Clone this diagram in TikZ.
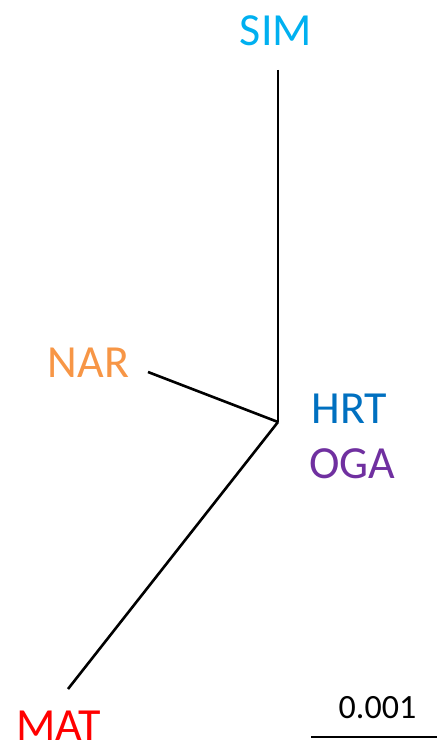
\documentclass[tikz,border=0pt]{standalone}
\usepackage{fontspec}
\setmainfont{Carlito}
\definecolor{simc}{HTML}{00B0F0}
\definecolor{narc}{HTML}{F79646}
\definecolor{hrtc}{HTML}{0070C0}
\definecolor{ogac}{HTML}{7030A0}
\definecolor{matc}{HTML}{FF0000}
\begin{document}
\begin{tikzpicture}[x=1pt,y=-1pt,
  lab/.style={inner sep=0pt,font=\fontsize{46}{46}\selectfont},
  branch/.style={line width=2.6pt,black},
  sclab/.style={inner sep=0pt,font=\fontsize{34}{34}\selectfont}]
\useasboundingbox (0,0) rectangle (437,749);
\coordinate (J) at (278,422);
\coordinate (simend) at (278,70);
\coordinate (narend) at (148,372);
\coordinate (matend) at (68,689);
\coordinate (sb1) at (311,737);
\coordinate (sb2) at (437,737);
\node[lab,text=simc] (sim) at (276,31) {SIM};
\node[lab,text=narc] (nar) at (88.5,362.5) {NAR};
\node[lab,text=hrtc] (hrt) at (349.5,409) {HRT};
\node[lab,text=ogac] (oga) at (352.5,464) {OGA};
\node[lab,text=matc] (mat) at (58.5,726) {MAT};
\node[sclab] (scale) at (377.5,707.5) {0.001};
\draw[branch] (simend) -- (J);
\draw[branch] (narend) -- (J);
\draw[branch] (J) -- (matend);
\draw[branch] (sb1) -- (sb2);
\end{tikzpicture}
\end{document}
